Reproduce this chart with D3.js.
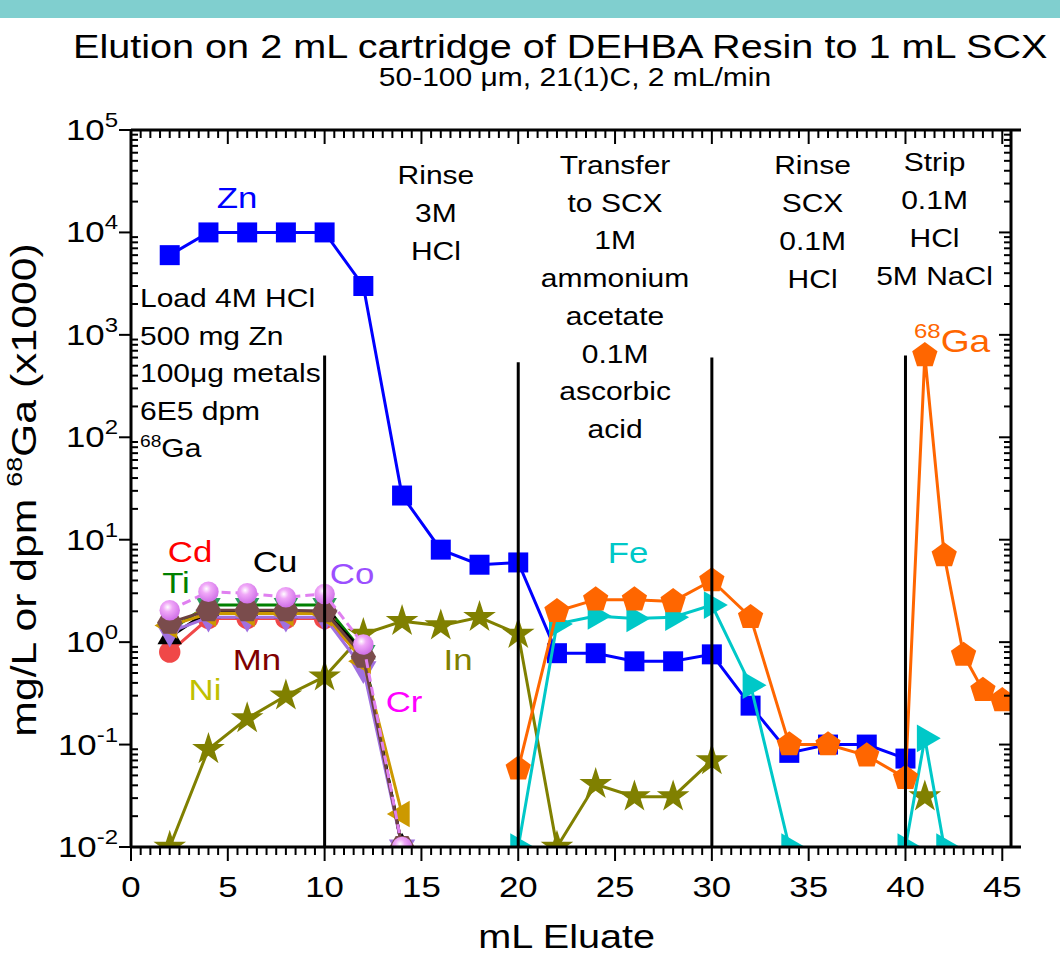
<!DOCTYPE html>
<html>
<head>
<meta charset="utf-8">
<script src="https://cdn.jsdelivr.net/npm/d3@7"></script>
<style>
  body { margin: 0; background: #fff; }
  text { font-family: "Liberation Sans", Arial, sans-serif; }
</style>
</head>
<body>
<div id="chart"></div>
<script>
// Elution profile, log scale
// x: mL eluate, y: mg/L (metals) or dpm 68Ga x1000

var mL = [2, 4, 6, 8, 10, 12, 14, 16, 18, 20, 22, 24, 26, 28, 30, 32, 34, 36, 38, 40, 41, 42, 43, 44, 45];

var zn = [6000, 10000, 10000, 10000, 10000, 3000, 27, 8, 5.7, 6, 0.78, 0.78, 0.65, 0.65, 0.76, 0.24, 0.083, 0.1, 0.1, 0.073, null, null, null, null, null];
var ga = [null, null, null, null, null, null, null, null, null, 0.058, 2.0, 2.6, 2.6, 2.5, 4.0, 1.75, 0.1, 0.1, 0.078, 0.047, 630, 7, 0.75, 0.34, 0.27];
var fe = [null, null, null, null, null, null, null, null, null, 0.01, 1.5, 1.8, 1.7, 1.75, 2.3, 0.38, 0.01, null, null, 0.01, 0.115, 0.01, null, null, null];
var inn = [0.01, 0.09, 0.18, 0.3, 0.46, 1.2, 1.6, 1.45, 1.75, 1.2, 0.01, 0.041, 0.031, 0.031, 0.07, null, null, null, null, null, 0.031, null, null, null, null];

var ti = [1.3, 2.3, 2.3, 2.3, 2.3, 0.8, 0.01];
var cd = [0.8, 1.7, 1.7, 1.7, 1.7, 0.7, 0.01];
var cu = [1.12, 2.0, 2.0, 2.0, 2.0, 0.8, 0.01];
var co = [1.25, 1.75, 1.75, 1.75, 1.75, 0.55, 0.01];
var ni = [1.45, 1.9, 1.9, 1.9, 1.9, 0.65, 0.021];
var mn = [1.55, 2.05, 2.05, 2.05, 2.0, 0.72, 0.01];
var cr = [2.05, 3.1, 3.0, 2.75, 2.95, 0.95, 0.01];

var phaseEdges = [10, 20, 30, 40];
var phaseTops = [630, 540, 600, 630];

var xTicks = [0, 5, 10, 15, 20, 25, 30, 35, 40, 45];
var yTicks = [-2, -1, 0, 1, 2, 3, 4, 5];

var width = 1060, height = 962;
var plot = { left: 131, right: 1011, top: 130, bottom: 847 };

var svg = d3.select("#chart").append("svg")
    .attr("width", width)
    .attr("height", height);

// teal band at the top
svg.append("rect")
    .attr("x", 0).attr("y", 0)
    .attr("width", width).attr("height", 18)
    .attr("fill", "#80cfcf");

var x = d3.scaleLinear().domain([0, 45.45]).range([plot.left, plot.right]);
var y = d3.scaleLog().domain([0.01, 1e5]).range([plot.bottom, plot.top]);

// text helper, glyphs wider than Liberation Sans
var sx = 1.2;
function label(g, tx, ty, str, size, color, anchor, scl) {
    return g.append("text")
        .attr("transform", "translate(" + tx + "," + ty + ") scale(" + (scl || sx) + ",1)")
        .attr("text-anchor", anchor || "middle")
        .attr("font-size", size)
        .attr("fill", color || "#000")
        .text(str);
}

// titles
label(svg, 73, 58, "Elution on 2 mL cartridge of DEHBA Resin to 1 mL SCX", 34, "#000", "start", 1.165);
label(svg, 575, 86, "50-100 \u03bcm, 21(1)C, 2 mL/min", 25);

// custom marker shapes
function polygon(n, rot) {
    return {
        draw: function (ctx, size) {
            var k = n / 2 * Math.sin(2 * Math.PI / n);
            var r = Math.sqrt(size / k);
            for (var i = 0; i < n; i++) {
                var a = rot + i * 2 * Math.PI / n;
                var px = r * Math.cos(a), py = r * Math.sin(a);
                if (i === 0) ctx.moveTo(px, py); else ctx.lineTo(px, py);
            }
            ctx.closePath();
        }
    };
}
var pentagon = polygon(5, -Math.PI / 2);
var hexagon = polygon(6, 0);
var triUp = polygon(3, -Math.PI / 2);
var triDown = polygon(3, Math.PI / 2);
var triLeft = polygon(3, Math.PI);
var triRight = polygon(3, 0);

// sphere gradient
var defs = svg.append("defs");
var grad = defs.append("radialGradient").attr("id", "sphere")
    .attr("cx", "40%").attr("cy", "35%").attr("r", "65%");
grad.append("stop").attr("offset", "0%").attr("stop-color", "#ffffff");
grad.append("stop").attr("offset", "35%").attr("stop-color", "#f0a8f8");
grad.append("stop").attr("offset", "100%").attr("stop-color", "#d070e8");

defs.append("clipPath").attr("id", "plotclip")
    .append("rect")
    .attr("x", plot.left).attr("y", plot.top)
    .attr("width", plot.right - plot.left).attr("height", plot.bottom - plot.top);

var dataLayer = svg.append("g").attr("clip-path", "url(#plotclip)");

var line = d3.line()
    .defined(function (d) { return d.v !== null; })
    .x(function (d) { return x(d.x); })
    .y(function (d) { return y(d.v); });

function series(vals, opts) {
    var data = vals.map(function (v, i) { return { x: mL[i], v: v }; });
    var g = dataLayer.append("g");
    g.append("path")
        .datum(data)
        .attr("d", line)
        .attr("fill", "none")
        .attr("stroke", opts.line)
        .attr("stroke-width", 3)
        .attr("stroke-dasharray", opts.dash || null);
    g.selectAll("path.pt")
        .data(data.filter(function (d) { return d.v !== null; }))
        .join("path")
        .attr("class", "pt")
        .attr("transform", function (d) { return "translate(" + x(d.x) + "," + y(d.v) + ")"; })
        .attr("d", d3.symbol().type(opts.shape).size(opts.size))
        .attr("fill", opts.fill);
}

// vertical phase separators
svg.append("g").selectAll("line")
    .data(phaseEdges)
    .join("line")
    .attr("x1", function (d) { return x(d); })
    .attr("x2", function (d) { return x(d); })
    .attr("y1", function (d, i) { return y(phaseTops[i]); })
    .attr("y2", plot.bottom)
    .attr("stroke", "#000")
    .attr("stroke-width", 3);

series(inn, { line: "#808000", fill: "#808000", shape: d3.symbolStar, size: 330 });
series(ti, { line: "#008000", fill: "#2e9e5e", shape: triDown, size: 260 });
series(cd, { line: "#f04848", fill: "#f04848", shape: d3.symbolCircle, size: 360 });
series(cu, { line: "#000000", fill: "#000000", shape: triUp, size: 260 });
series(co, { line: "#a070e0", fill: "#a070e0", shape: triDown, size: 300 });
series(ni, { line: "#cc9900", fill: "#cc9900", shape: triLeft, size: 300 });
series(mn, { line: "#6b4040", fill: "#7a4c4c", shape: hexagon, size: 420 });
series(cr, { line: "#e080f0", fill: "url(#sphere)", shape: d3.symbolCircle, size: 330, dash: "9,5" });
series(zn, { line: "#0000ff", fill: "#0000ff", shape: d3.symbolSquare, size: 400 });
series(fe, { line: "#00c8c8", fill: "#00c8c8", shape: triRight, size: 330 });
series(ga, { line: "#ff6600", fill: "#ff6600", shape: pentagon, size: 420 });

// axes frame
var ax = svg.append("g").attr("stroke", "#000").attr("stroke-width", 3);
ax.append("line").attr("x1", plot.left).attr("x2", 1021).attr("y1", plot.bottom).attr("y2", plot.bottom);
ax.append("line").attr("x1", plot.left).attr("x2", 1021).attr("y1", plot.top).attr("y2", plot.top);
ax.append("line").attr("x1", plot.left).attr("x2", plot.left).attr("y1", plot.top).attr("y2", plot.bottom);
ax.append("line").attr("x1", plot.right).attr("x2", plot.right).attr("y1", plot.top).attr("y2", plot.bottom);

// x ticks every 0.5 mL
var xMinor = d3.range(0, 45.5, 0.5);
var tk = svg.append("g").attr("stroke", "#000").attr("stroke-width", 2);
xMinor.forEach(function (v) {
    var major = v % 5 === 0;
    var len = major ? 14 : 8;
    tk.append("line").attr("x1", x(v)).attr("x2", x(v))
        .attr("y1", plot.bottom).attr("y2", plot.bottom + len);
    tk.append("line").attr("x1", x(v)).attr("x2", x(v))
        .attr("y1", plot.top).attr("y2", plot.top + len);
});

// y ticks: decades plus minor log ticks
for (var e = -2; e <= 5; e++) {
    var yy = y(Math.pow(10, e));
    tk.append("line").attr("x1", plot.left - 12).attr("x2", plot.left).attr("y1", yy).attr("y2", yy);
    tk.append("line").attr("x1", plot.right - 12).attr("x2", plot.right).attr("y1", yy).attr("y2", yy);
    if (e < 5) {
        for (var m = 2; m <= 9; m++) {
            var ym = y(m * Math.pow(10, e));
            tk.append("line").attr("x1", plot.left).attr("x2", plot.left + 7).attr("y1", ym).attr("y2", ym);
            tk.append("line").attr("x1", plot.right - 7).attr("x2", plot.right).attr("y1", ym).attr("y2", ym);
        }
    }
}

// tick labels
var tl = svg.append("g");
xTicks.forEach(function (v) {
    label(tl, x(v), 897, String(v), 29);
});
yTicks.forEach(function (e) {
    var t = tl.append("text")
        .attr("transform", "translate(118," + (y(Math.pow(10, e)) + 10) + ") scale(" + sx + ",1)")
        .attr("text-anchor", "end")
        .attr("font-size", 29);
    t.append("tspan").text("10");
    t.append("tspan").attr("dy", -13).attr("font-size", 20).text(String(e));
});

// axis titles
label(svg, x(22.5), 948, "mL Eluate", 33);
var yl = svg.append("text")
    .attr("transform", "translate(36,490) rotate(-90) scale(1.22,1)")
    .attr("text-anchor", "middle")
    .attr("font-size", 35);
yl.append("tspan").text("mg/L or dpm ");
yl.append("tspan").attr("dy", -14).attr("font-size", 22).text("68");
yl.append("tspan").attr("dy", 14).text("Ga (x1000)");

// phase annotations
var notes = svg.append("g");
function block(lines, cx, y0, step, anchor) {
    lines.forEach(function (s, i) { label(notes, cx, y0 + i * step, s, 25, "#000", anchor); });
}
block(["Load 4M HCl", "500 mg Zn", "100\u03bcg metals", "6E5 dpm"], 140, 307, 37.5, "start");
var g68 = notes.append("text").attr("transform", "translate(140,457) scale(" + sx + ",1)").attr("font-size", 25);
g68.append("tspan").attr("font-size", 16).attr("dy", -10).text("68");
g68.append("tspan").attr("dy", 10).text("Ga");
block(["Rinse", "3M", "HCl"], x(15.75), 184, 38);
block(["Transfer", "to SCX", "1M", "ammonium", "acetate", "0.1M", "ascorbic", "acid"], x(25), 174, 37.7);
block(["Rinse", "SCX", "0.1M", "HCl"], x(35.2), 174, 38);
block(["Strip", "0.1M", "HCl", "5M NaCl"], x(41.5), 171, 38);

// series labels
label(notes, 237, 208, "Zn", 29, "#0000ff");
label(notes, 628, 563, "Fe", 29, "#00c8c8");
var gl = notes.append("text").attr("transform", "translate(914,352) scale(" + sx + ",1)").attr("font-size", 31).attr("fill", "#ff6600");
gl.append("tspan").attr("font-size", 20).attr("dy", -14).text("68");
gl.append("tspan").attr("dy", 14).text("Ga");
label(notes, 190, 562, "Cd", 29, "#ff0000");
label(notes, 275, 572, "Cu", 29, "#000000");
label(notes, 176, 593, "Ti", 29, "#008000");
label(notes, 352, 584, "Co", 29, "#9b4fff");
label(notes, 257, 670, "Mn", 29, "#800000");
label(notes, 205, 700, "Ni", 29, "#c0c000");
label(notes, 458, 670, "In", 29, "#808000");
label(notes, 404, 712, "Cr", 29, "#ff00ff");
</script>
</body>
</html>
